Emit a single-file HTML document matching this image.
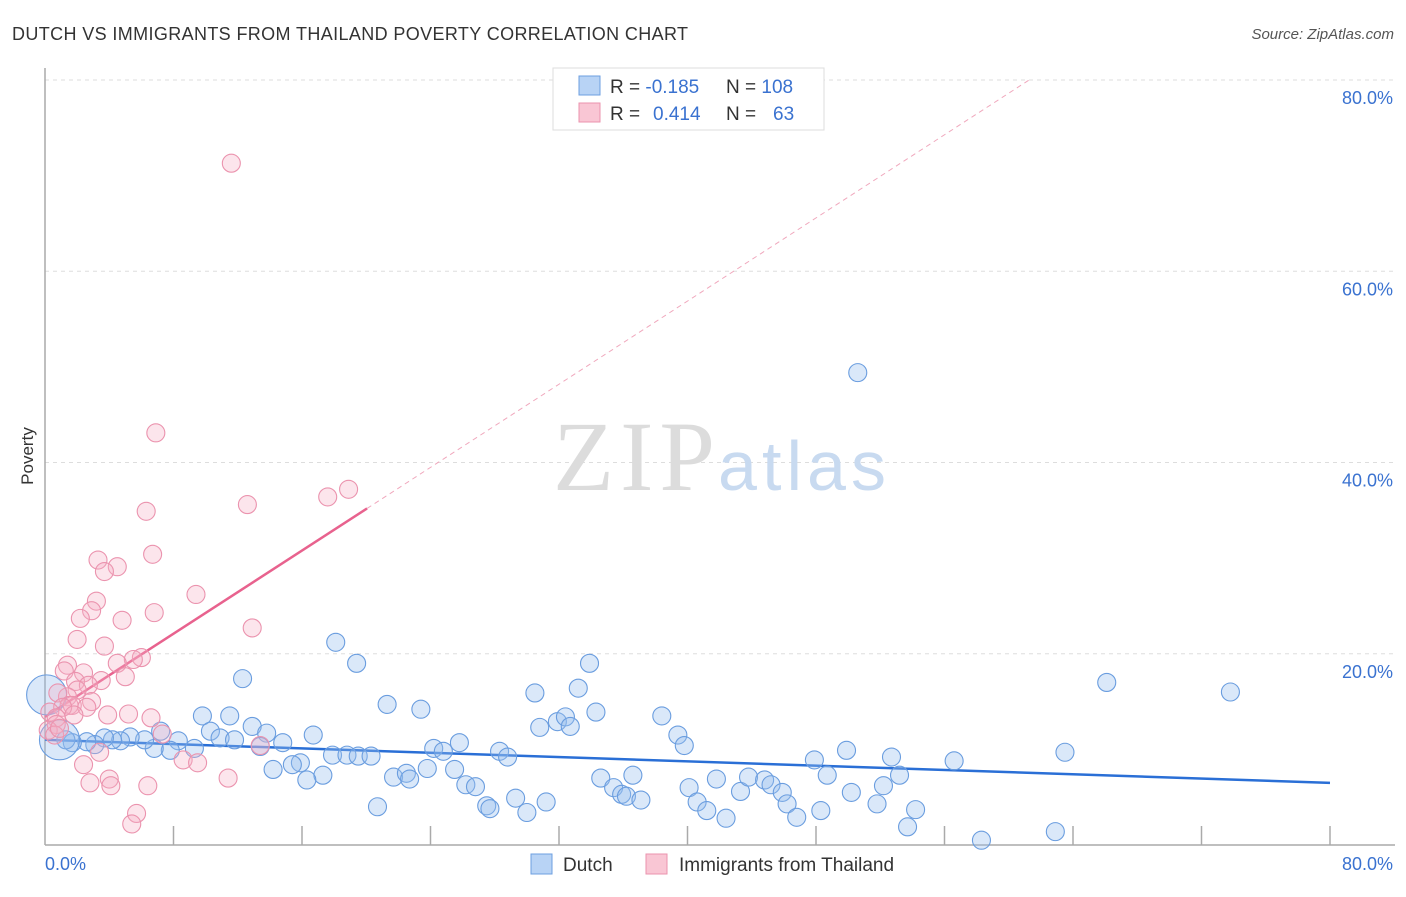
<!DOCTYPE html>
<html><head><meta charset="utf-8"><style>
body{margin:0;background:#fff;font-family:"Liberation Sans",sans-serif;}
</style></head><body>
<svg id="chart" width="1406" height="892" viewBox="0 0 1406 892" font-family="Liberation Sans, sans-serif">
<text x="12" y="40" font-size="18" fill="#333" textLength="676">DUTCH VS IMMIGRANTS FROM THAILAND POVERTY CORRELATION CHART</text>
<text x="1394" y="39" font-size="15" fill="#555" font-style="italic" text-anchor="end">Source: ZipAtlas.com</text>
<g id="grid"></g>
<g id="watermark">
<text x="553" y="490" font-size="100" style="font-family:'Liberation Serif',serif" fill="#dcdcdc" textLength="162">ZIP</text>
<text x="718" y="490" font-size="70" fill="#c8daf0" textLength="168">atlas</text>
</g>
<g id="axes"></g>
<g id="trends"></g>
<g id="points"></g>
<text transform="translate(33,456) rotate(-90)" font-size="17" fill="#333" text-anchor="middle">Poverty</text>
<g>
<rect x="553" y="68" width="271" height="62" fill="#fff" stroke="#ddd"/>
<rect x="579" y="76" width="21" height="19" fill="#b8d3f5" stroke="#6d9fe0"/>
<rect x="579" y="103" width="21" height="19" fill="#f9c6d4" stroke="#eb93ae"/>
<text x="610" y="93" font-size="19" fill="#333">R = <tspan fill="#3a72d0">-0.185</tspan></text>
<text x="726" y="93" font-size="19" fill="#333">N = <tspan fill="#3a72d0">108</tspan></text>
<text x="610" y="120" font-size="19" fill="#333">R = <tspan fill="#3a72d0" x="653">0.414</tspan></text>
<text x="726" y="120" font-size="19" fill="#333">N = <tspan fill="#3a72d0" x="773">63</tspan></text>
</g>
<g>
<rect x="531" y="854" width="21" height="20" fill="#b8d3f5" stroke="#6d9fe0"/>
<text x="563" y="871" font-size="19" fill="#333">Dutch</text>
<rect x="646" y="854" width="21" height="20" fill="#f9c6d4" stroke="#eb93ae"/>
<text x="679" y="871" font-size="19" fill="#333">Immigrants from Thailand</text>
</g>
</svg>
<script>
const yTicks=[20,40,60,80];
const yTickLabels=["20.0%","40.0%","60.0%","80.0%"];
const xTicks=[8,16,24,32,40,48,56,64,72,80];
const dutchX=[50.6,18.1,19.4,33.9,66.1,73.8,12.3,33.2,30.5,21.3,23.4,34.3,38.4,9.8,11.5,31.9,32.4,32.7,30.8,12.9,39.4,39.8,16.7,13.8,10.3,7.2,10.9,11.8,14.8,13.4,8.3,9.3,7.8,6.8,6.2,5.3,4.7,4.2,3.7,3.1,2.6,1.7,1.3,0.9,0.1,25.8,24.2,24.8,28.3,28.8,17.9,18.8,19.5,20.3,15.9,15.4,17.3,16.3,14.2,21.7,22.5,22.7,23.8,25.5,26.2,26.8,27.5,27.7,29.3,30.0,31.2,20.7,34.6,35.4,35.9,36.2,36.6,37.1,40.1,40.6,41.2,41.8,42.4,43.3,43.8,44.8,45.2,45.9,46.2,46.8,47.9,48.7,48.3,49.9,50.2,51.8,52.2,52.7,53.2,53.7,54.2,56.6,58.3,62.9,63.5];
const dutchY=[49.4,21.2,19.0,19.0,17.0,16.0,17.4,16.4,15.9,14.7,14.2,13.9,13.5,13.5,13.5,12.9,13.4,12.4,12.3,12.4,11.5,10.4,11.5,11.7,11.9,11.9,11.2,11.0,10.7,10.3,10.9,10.1,9.9,10.1,11.0,11.3,10.9,11.0,11.2,10.5,10.8,10.7,11.0,11.0,15.7,10.7,10.1,9.8,9.8,9.2,9.4,9.4,9.3,9.3,8.6,8.4,7.3,6.8,7.9,7.1,7.5,6.9,8.0,7.9,6.3,6.1,4.1,3.8,4.9,3.4,4.5,4.0,7.0,6.0,5.3,5.1,7.3,4.7,6.0,4.5,3.6,6.9,2.8,5.6,7.1,6.8,6.3,5.5,4.3,2.9,8.9,7.3,3.6,9.9,5.5,4.3,6.2,9.2,7.3,1.9,3.7,8.8,0.5,1.4,9.7];
const thaiX=[11.6,6.9,18.9,17.6,12.6,6.3,6.7,3.3,4.5,3.7,9.4,3.2,2.9,6.8,2.2,4.8,12.9,2.0,3.7,6.0,5.5,4.5,1.4,1.2,5.0,2.4,1.9,3.5,2.7,2.0,1.4,0.8,2.9,1.5,1.7,1.1,2.6,0.3,0.7,1.8,3.9,5.2,6.6,0.7,0.2,0.6,7.3,13.4,3.4,8.6,9.5,2.4,4.0,11.4,2.8,4.1,6.4,5.7,5.4,0.9];
const thaiY=[71.3,43.1,37.2,36.4,35.6,34.9,30.4,29.8,29.1,28.6,26.2,25.5,24.5,24.3,23.7,23.5,22.7,21.5,20.8,19.6,19.4,19.0,18.8,18.2,17.6,18.0,17.1,17.2,16.7,16.2,15.5,15.9,15.0,14.6,14.6,14.4,14.4,13.9,13.3,13.6,13.6,13.7,13.3,12.6,12.0,11.5,11.6,10.4,9.7,8.9,8.6,8.4,6.9,7.0,6.5,6.2,6.2,3.3,2.2,12.2];
const dutchTrend=[11.0,6.5];
const thaiTrend=[13.4,1.087];
const NS="http://www.w3.org/2000/svg";
const X0=45,X1=1330,Y0=845,Y1=80;
function sx(v){return X0+(X1-X0)*v/80;}
function sy(v){return Y0-(Y0-Y1)*v/80;}
function mk(t,a,p){const e=document.createElementNS(NS,t);for(const k in a)e.setAttribute(k,a[k]);p.appendChild(e);return e;}
const grid=document.getElementById('grid'),axes=document.getElementById('axes'),tr=document.getElementById('trends'),pts=document.getElementById('points');
yTicks.forEach((v,i)=>{
 const l=mk('line',{x1:X0,x2:1395,y1:sy(v),y2:sy(v),stroke:'#ddd','stroke-dasharray':'4,4'},grid);
 
 
 const t=mk('text',{x:1393,y:sy(v)+24,'font-size':18,fill:'#3a72d0','text-anchor':'end'},grid);
 t.textContent=yTickLabels[i];
 
 
});
let a=mk('line',{x1:X0,x2:X0,y1:68,y2:Y0,stroke:'#aaa','stroke-width':1.5},axes);


a=mk('line',{x1:X0,x2:1395,y1:Y0,y2:Y0,stroke:'#aaa','stroke-width':1.5},axes);


xTicks.forEach(v=>{const l=mk('line',{x1:sx(v),x2:sx(v),y1:Y0,y2:Y0-19,stroke:'#aaa','stroke-width':1.5},axes);
 
 });
let t=mk('text',{x:X0,y:870,'font-size':18,fill:'#3a72d0'},axes);t.textContent='0.0%';


t=mk('text',{x:1393,y:870,'font-size':18,fill:'#3a72d0','text-anchor':'end'},axes);t.textContent='80.0%';


function addPts(xs,ys,fill,stroke,name,bigIdx){xs.forEach((x,i)=>{const big=bigIdx.includes(i);
 const c=mk('circle',{cx:sx(x),cy:sy(ys[i]),r:big?20:9,fill:fill,stroke:stroke,'stroke-width':1.1},pts);
 
 });}
addPts(dutchX,dutchY,'rgba(150,190,238,0.35)','#6a9ddf','dutch-point',[43,44]);
addPts(thaiX,thaiY,'rgba(246,175,196,0.33)','#eb93ae','thailand-point',[]);
let l=mk('line',{x1:sx(0),y1:sy(dutchTrend[0]),x2:sx(80),y2:sy(dutchTrend[1]),stroke:'#2a6fd6','stroke-width':2.5},tr);


const xe=20.05,xd=(80-thaiTrend[0])/thaiTrend[1];
l=mk('line',{x1:sx(0),y1:sy(thaiTrend[0]),x2:sx(xe),y2:sy(thaiTrend[0]+thaiTrend[1]*xe),stroke:'#e8628e','stroke-width':2.5},tr);


l=mk('line',{x1:sx(xe),y1:sy(thaiTrend[0]+thaiTrend[1]*xe),x2:sx(xd),y2:sy(80),stroke:'#f0a8bd','stroke-width':1,'stroke-dasharray':'5,4'},tr);


</script>
</body></html>
